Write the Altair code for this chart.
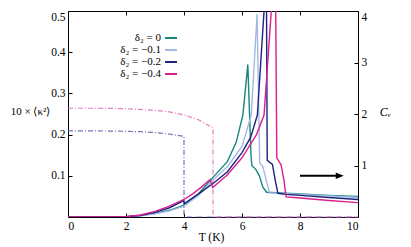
import altair as alt
import pandas as pd

# ---------------- data ----------------
series_labels = ["δ₂ = 0", "δ₂ = −0.1", "δ₂ = −0.2", "δ₂ = −0.4"]
series_colors = ["#17877d", "#a4b8e6", "#1e2380", "#d6208e"]

T_d0 = [0, 1.5, 2, 2.5, 3, 3.5, 4, 4.5, 5, 5.5, 5.8, 6.03, 6.2, 6.31, 6.34, 6.48, 6.6, 6.72, 6.85, 7.2, 8, 9, 10]
C_d0 = [0, 0, 0.005, 0.03, 0.07, 0.13, 0.23, 0.45, 0.77, 1.08, 1.45, 1.98, 2.96, 1.2, 1.0, 0.92, 0.8, 0.58, 0.48, 0.47, 0.45, 0.42, 0.40]

T_d1 = [0, 1.5, 2, 2.5, 3, 3.5, 4, 4.5, 5, 5.5, 6, 6.32, 6.52, 6.61, 6.72, 6.84, 6.95, 7.2, 8, 9, 10]
C_d1 = [0, 0, 0.005, 0.025, 0.06, 0.12, 0.21, 0.42, 0.72, 0.98, 1.37, 1.98, 3.94, 1.05, 0.98, 0.7, 0.47, 0.46, 0.44, 0.41, 0.38]

T_d2 = [0, 1.5, 2, 2.5, 3, 3.5, 3.99, 4.01, 4.5, 5, 5.5, 6, 6.3, 6.53, 6.76, 6.84, 6.87, 7.05, 7.15, 7.24, 7.5, 8, 9, 10]
C_d2 = [0, 0, 0.005, 0.03, 0.09, 0.18, 0.32, 0.26, 0.45, 0.65, 0.88, 1.25, 1.55, 1.98, 4.0, 4.7, 1.1, 1.02, 0.7, 0.46, 0.44, 0.42, 0.38, 0.34]

T_d4 = [0, 1.5, 2, 2.5, 3, 3.5, 4, 4.3, 4.6, 4.9, 4.99, 5.5, 6, 6.5, 6.76, 7.01, 7.15, 7.2, 7.35, 7.45, 7.52, 8, 9, 10]
C_d4 = [0, 0, 0.005, 0.04, 0.11, 0.21, 0.34, 0.45, 0.58, 0.73, 0.57, 0.82, 1.15, 1.6, 1.98, 4.0, 5.0, 1.15, 1.01, 0.7, 0.39, 0.37, 0.32, 0.28]

# 10 x <kappa^2> (dash-dot)
kT_d2 = [0, 1, 2, 2.5, 3, 3.5, 4, 4, 10]
k_d2 = [0.209, 0.209, 0.208, 0.207, 0.205, 0.201, 0.196, 0, 0]
kT_d4 = [0, 1, 2, 3, 3.5, 4, 4.5, 5, 5, 10]
k_d4 = [0.264, 0.264, 0.263, 0.259, 0.255, 0.248, 0.236, 0.216, 0, 0]
kappa_colors = ["#5a5aa8", "#e066b4"]

arrow_T = [8.0, 9.3, 9.37]
arrow_C = 0.8

x_ticks = [0, 2, 4, 6, 8, 10]
k_ticks = [0.1, 0.2, 0.3, 0.4, 0.5]
c_ticks = [1, 2, 3, 4]

FONT = "Liberation Serif"

# ---------------- tables ----------------
rows = []
for lab, Ts, Cs in zip(series_labels, [T_d0, T_d1, T_d2, T_d4], [C_d0, C_d1, C_d2, C_d4]):
    for i, (t, c) in enumerate(zip(Ts, Cs)):
        rows.append({"T": t, "C": c, "s": lab, "i": i})
cv = pd.DataFrame(rows)

krows = []
for lab, Ts, Ks in zip(["k2", "k4"], [kT_d2, kT_d4], [k_d2, k_d4]):
    for i, (t, k) in enumerate(zip(Ts, Ks)):
        krows.append({"T": t, "K": k, "s": lab, "i": i})
kd = pd.DataFrame(krows)

arrow_line = pd.DataFrame({"T": [arrow_T[0]], "T2": [arrow_T[1]], "C": [arrow_C]})
arrow_head = pd.DataFrame({"T": [arrow_T[2]], "C": [arrow_C]})

xscale = alt.Scale(domain=[0, 10], nice=False)

# ---------------- layers ----------------
kappa = alt.Chart(kd).mark_line(strokeWidth=1.2, strokeDash=[5, 2, 1, 2], opacity=0.85).encode(
    x=alt.X("T:Q", scale=xscale,
            axis=alt.Axis(orient="top", values=[2, 4, 6, 8], labels=False, title=None,
                          domain=False, grid=False, offset=-4, tickSize=4, tickColor="black")),
    y=alt.Y("K:Q", scale=alt.Scale(domain=[0, 0.5], nice=False),
            axis=alt.Axis(orient="left", values=k_ticks, format=".1f", title="10 × ⟨κ²⟩",
                          titleAngle=0, titleFont=FONT, titleFontSize=11, titleFontWeight="normal",
                          titleX=-42, titleY=100, titleAlign="center", titleBaseline="middle",
                          labelFont=FONT, labelFontSize=11.5, labelPadding=3, labelColor="black",
                          labelFlush=True,
                          domain=False, grid=False, offset=-4, tickSize=4, tickColor="black")),
    color=alt.Color("s:N", scale=alt.Scale(domain=["k2", "k4"], range=kappa_colors), legend=None),
    order="i:Q",
)

lines = alt.Chart(cv).mark_line(strokeWidth=1.4, clip=True).encode(
    x=alt.X("T:Q", scale=xscale,
            axis=alt.Axis(orient="bottom", values=x_ticks, format="d", title="T (K)",
                          titleFont=FONT, titleFontSize=11.5, titleFontWeight="normal",
                          titleFontStyle="normal", titleY=24, titleX=143, titleBaseline="middle",
                          labelFont=FONT, labelFontSize=11.5, labelPadding=3, labelColor="black",
                          domain=False, grid=False, offset=-4, tickSize=4, tickColor="black")),
    y=alt.Y("C:Q", scale=alt.Scale(domain=[0, 4], nice=False),
            axis=alt.Axis(orient="right", values=c_ticks, format="d", title="Cᵥ",
                          titleAngle=0, titleFont=FONT, titleFontSize=12, titleFontWeight="normal",
                          titleFontStyle="italic", titleX=31, titleY=100, titleAlign="center",
                          titleBaseline="middle",
                          labelFont=FONT, labelFontSize=11.5, labelPadding=3, labelColor="black",
                          labelFlush=True,
                          domain=False, grid=False, offset=-4, tickSize=4, tickColor="black")),
    color=alt.Color("s:N", scale=alt.Scale(domain=series_labels, range=series_colors),
                    legend=alt.Legend(orient="none", legendX=96, legendY=20, title=None,
                                      symbolType="stroke", symbolSize=144, symbolStrokeWidth=2,
                                      labelAlign="right", labelOffset={"expr": "-17"}, labelFont=FONT,
                                      labelFontSize=11, labelColor="black",
                                      rowPadding=0, padding=0, labelLimit=200)),
    order="i:Q",
)

arrow_rule = alt.Chart(arrow_line).mark_rule(strokeWidth=2, color="black").encode(
    x=alt.X("T:Q", scale=xscale, axis=None),
    x2="T2:Q",
    y=alt.Y("C:Q", scale=alt.Scale(domain=[0, 4], nice=False), axis=None),
)
arrow_tip = alt.Chart(arrow_head).mark_point(shape="M-1,-0.8L1,0L-1,0.8Z", size=64, filled=True,
                                              color="black", opacity=1).encode(
    x=alt.X("T:Q", scale=xscale, axis=None),
    y=alt.Y("C:Q", scale=alt.Scale(domain=[0, 4], nice=False), axis=None),
)

chart = alt.layer(kappa, lines, arrow_rule, arrow_tip).resolve_scale(
    y="independent", color="independent"
).resolve_axis(x="independent").properties(
    width=290, height=206,
    background="white",
    autosize=alt.AutoSizeParams(type="none"),
    padding={"left": 60, "top": 3, "right": 45, "bottom": 31},
).configure_view(stroke="black", strokeWidth=1)

chart.save("out.html", embed_options={"renderer": "svg", "actions": False})
